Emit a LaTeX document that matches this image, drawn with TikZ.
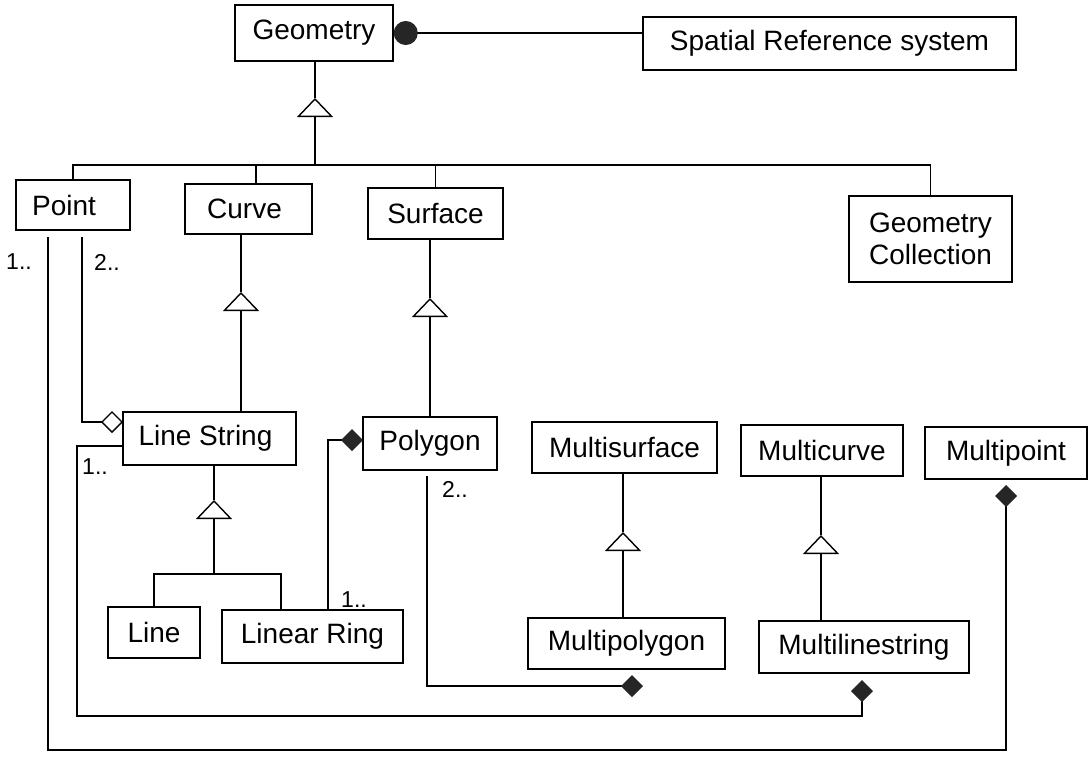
\documentclass[tikz,border=0pt]{standalone}
\usepackage{fontspec}
\setmainfont{Liberation Sans}
\usetikzlibrary{arrows.meta,calc}
\definecolor{dark}{HTML}{262626}
\begin{document}
\begin{tikzpicture}[x=1pt,y=-1pt,
  box/.style={draw, line width=1.5pt, inner sep=0pt, align=center,
    font=\fontsize{28}{32}\selectfont},
  conn/.style={line width=1.4pt},
  gen/.style={conn, -{Triangle[open,length=19pt,width=36pt]}},
  aggr/.style={conn, {Diamond[open,length=22pt,width=22pt]}-},
  comp/.style={conn, {Diamond[length=22pt,width=22pt,fill=dark,color=dark]}-},
  ball/.style={conn, {Circle[length=24pt,fill=dark,color=dark]}-},
  lbl/.style={font=\fontsize{23}{26}\selectfont, inner sep=0pt}
]
\fill[white] (0,0) rectangle (1092,761);
\useasboundingbox (0,0) rectangle (1092,761);

% classes
\node[box, minimum width=158pt, minimum height=56pt] (geom) at (314,33) {Geometry};
\node[box, minimum width=373pt, minimum height=53pt] (srs) at (829.5,43.5) {Spatial Reference system};
\node[box, minimum width=114pt, minimum height=50pt] (point) at (73,205) {\hspace*{-18pt}Point};
\node[box, minimum width=127pt, minimum height=50pt] (curve) at (248.5,209) {\hspace*{-8pt}Curve};
\node[box, minimum width=135pt, minimum height=51pt] (surface) at (435.5,213.5) {Surface};
\node[box, minimum width=163pt, minimum height=86pt] (gc) at (930.5,239) {Geometry\\Collection};
\node[box, minimum width=173pt, minimum height=53pt] (ls) at (209.5,438.5) {\hspace*{-8pt}Line String};
\node[box, minimum width=134pt, minimum height=53pt] (polygon) at (430,443.5) {Polygon};
\node[box, minimum width=185pt, minimum height=51pt] (msurf) at (624.5,447.5) {Multisurface};
\node[box, minimum width=162pt, minimum height=51pt] (mcurve) at (822,450.5) {Multicurve};
\node[box, minimum width=162pt, minimum height=52pt] (mpoint) at (1006,453) {Multipoint};
\node[box, minimum width=92pt, minimum height=51pt] (line) at (154,632.5) {Line};
\node[box, minimum width=181pt, minimum height=53pt] (lring) at (312.5,636.5) {Linear Ring};
\node[box, minimum width=197pt, minimum height=51pt] (mpoly) at (626.5,643.5) {Multipolygon};
\node[box, minimum width=210pt, minimum height=52pt] (mls) at (864,647) {Multilinestring};

% Geometry -- Spatial Reference system
\draw[ball] (geom.east) -- (geom.east -| srs.west);

% Geometry generalization
\coordinate (gtip) at (315,98);
\coordinate (bar) at (315,165);
\coordinate (cvj) at (256,184);
\draw[gen] (bar) -- (gtip);
\draw[conn] (gtip) -- (gtip |- geom.south);
\draw[conn] (point.north) -- (point.north |- bar) -- (gc.north |- bar) -- (gc.north);
\draw[conn] (cvj) -- (cvj |- bar);
\draw[conn] (surface.north) -- (surface.north |- bar);

% Curve <- Line String
\coordinate (ctip) at (241,292);
\draw[gen] (ls.north -| ctip) -- (ctip);
\draw[conn] (ctip) -- (ctip |- curve.south);

% Surface <- Polygon
\coordinate (stip) at (430,298);
\draw[gen] (polygon.north) -- (stip);
\draw[conn] (stip) -- (stip |- surface.south);

% Line String <- Line, Linear Ring
\coordinate (lstip) at (214,500);
\coordinate (lsbar) at (214,574);
\coordinate (lrj) at (281,610);
\draw[gen] (lsbar) -- (lstip);
\draw[conn] (lstip) -- (lstip |- ls.south);
\draw[conn] (line.north) -- (line.north |- lsbar) -- (lrj |- lsbar) -- (lrj);

% Multisurface <- Multipolygon
\coordinate (mstip) at (623,532);
\draw[gen] (mpoly.north -| mstip) -- (mstip);
\draw[conn] (mstip) -- (mstip |- msurf.south);

% Multicurve <- Multilinestring
\coordinate (mctip) at (821,535);
\draw[gen] (mls.north -| mctip) -- (mctip);
\draw[conn] (mctip) -- (mctip |- mcurve.south);

% Point 2.. -- Line String (aggregation)
\coordinate (lsa) at (123,422);
\coordinate (p2) at (82,237);
\draw[aggr] (lsa) -- (p2 |- lsa) -- (p2);

% Linear Ring 1.. -- Polygon (composition)
\coordinate (pga) at (363,440);
\coordinate (lrk) at (328,610);
\draw[comp] (pga) -| (lrk);

% Polygon 2.. -- Multipolygon (composition)
\coordinate (mpd) at (643,686);
\coordinate (pgb) at (427,476);
\draw[comp] (mpd) -- (pgb |- mpd) -- (pgb);

% Line String 1.. -- Multilinestring (composition)
\coordinate (mlsd) at (862,680);
\coordinate (lsb) at (77,716);
\coordinate (lsw) at (123,446);
\draw[comp] (mlsd) -- (mlsd |- lsb) -- (lsb) -- (lsb |- lsw) -- (lsw);

% Point 1.. -- Multipoint (composition)
\coordinate (mpt) at (1006,485);
\coordinate (pb) at (48,750);
\coordinate (p1) at (48,237);
\draw[comp] (mpt) -- (mpt |- pb) -- (pb) -- (p1);

% multiplicities
\node[lbl] (m1) at (19,262) {1..};
\node[lbl] (m2) at (107,262) {2..};
\node[lbl] (m3) at (95,467) {1..};
\node[lbl] (m4) at (354,600) {1..};
\node[lbl] (m5) at (455,489) {2..};
\end{tikzpicture}
\end{document}
